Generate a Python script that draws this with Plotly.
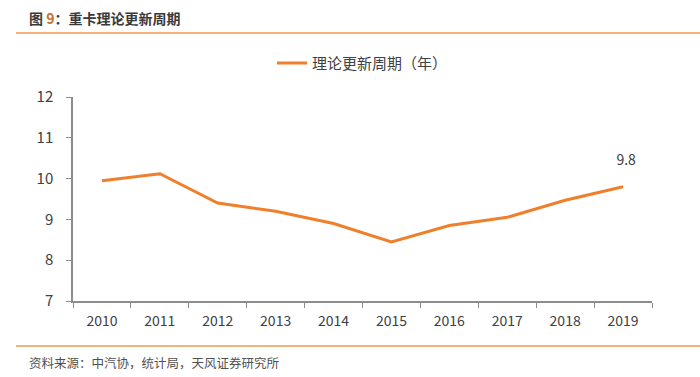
import plotly.graph_objects as go

years = ["2010", "2011", "2012", "2013", "2014", "2015", "2016", "2017", "2018", "2019"]
cycle = [9.95, 10.12, 9.4, 9.2, 8.9, 8.45, 8.85, 9.05, 9.47, 9.8]
series_name = "理论更新周期（年）"
title_text = "图 <span style='color:#C8702E'>9</span>：重卡理论更新周期"
source_text = "资料来源：中汽协，统计局，天风证券研究所"

ORANGE = "#F07F2B"
FONT = "Noto Sans CJK SC, Microsoft YaHei, sans-serif"
TXT = "#404040"

fig = go.Figure()
fig.add_trace(go.Scatter(
    x=years, y=cycle, mode="lines", name=series_name,
    line=dict(color=ORANGE, width=3),
))
fig.add_trace(go.Scatter(
    x=years[-1:], y=cycle[-1:], mode="text", text=[f"  {cycle[-1]:.1f}<br> "],
    textposition="top center", showlegend=False, hoverinfo="skip",
    textfont=dict(size=14, color=TXT, family=FONT), cliponaxis=False,
))

fig.update_layout(
    width=700, height=377,
    margin=dict(l=73, r=48, t=97, b=76),
    paper_bgcolor="white", plot_bgcolor="white",
    font=dict(family=FONT, color=TXT, size=13),
    showlegend=True,
    legend=dict(orientation="h", x=0.5, xanchor="center", y=1.165, yanchor="middle",
                font=dict(size=15, color=TXT), bgcolor="rgba(0,0,0,0)"),
    xaxis=dict(type="category", range=[-0.5, 9.5], showline=True, linecolor="#8C8C8C",
               linewidth=1.5, ticks="outside", tickson="boundaries", ticklen=5,
               tickcolor="#8C8C8C", showgrid=False, zeroline=False,
               ticklabelstandoff=6,
               tickfont=dict(size=14, color=TXT)),
    yaxis=dict(range=[7, 12], dtick=1, showline=True, linecolor="#8C8C8C",
               linewidth=1.5, ticks="outside", ticklen=5, tickcolor="#8C8C8C",
               showgrid=False, zeroline=False, ticklabelstandoff=10,
               tickfont=dict(size=15, color=TXT)),
)

# header & footer
fig.add_annotation(xref="paper", yref="paper", x=-73/579 + 27/579, y=1 + (97 - 18) / 204,
                   xanchor="left", yanchor="middle", showarrow=False,
                   text=f"<b>{title_text}</b>", font=dict(size=14, color="#3A3A3A", family=FONT))
fig.add_annotation(xref="paper", yref="paper", x=-73/579 + 27/579, y=-(362 - 301) / 204,
                   xanchor="left", yanchor="middle", showarrow=False,
                   text=source_text, font=dict(size=12.5, color="#505050", family=FONT))
for ypix in (33, 346):
    fig.add_shape(type="line", xref="paper", yref="paper",
                  x0=(16 - 73) / 579, x1=(700 - 73) / 579,
                  y0=1 - (ypix - 97) / 204, y1=1 - (ypix - 97) / 204,
                  line=dict(color="#F59A4A", width=1.5))

fig.write_html("out.html", config={"displayModeBar": False},
               post_script="document.body.style.margin='0';document.body.style.padding='0';")
